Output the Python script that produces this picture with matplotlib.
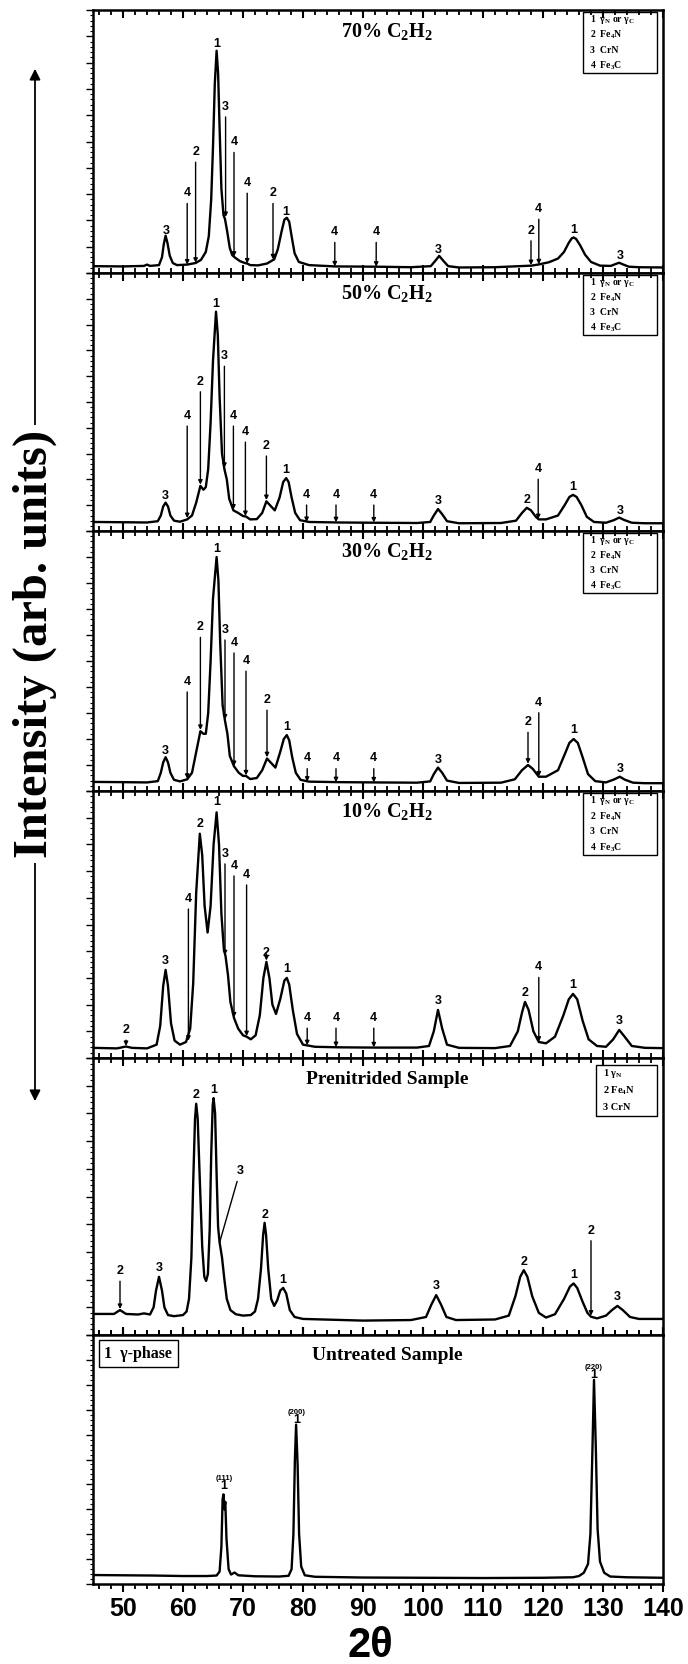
import matplotlib
matplotlib.use("Agg")
import matplotlib.pyplot as plt
from matplotlib.ticker import MultipleLocator
from matplotlib.patches import Rectangle, FancyArrowPatch
from matplotlib import font_manager

names = {f.name for f in font_manager.fontManager.ttflist}
TICKFONT = 'Liberation Sans Narrow' if 'Liberation Sans Narrow' in names else 'Liberation Sans'
SERIF = 'Liberation Serif'
SANS = 'Liberation Sans'
plt.rcParams['mathtext.default'] = 'regular'

# ---- data: (2theta, intensity in % of panel height) ----
curve_70 = [(45, 2.6), (50, 2.5), (53.5, 2.7), (54, 3.2), (54.5, 2.7), (56, 3.0), (56.5, 6), (56.8, 11),
            (57.1, 14.2), (57.4, 11.5), (57.8, 6.5), (58.3, 3.8), (59, 3.0), (60.7, 3.2), (62.1, 3.8),
            (63, 5), (63.8, 8), (64.3, 14), (64.7, 28), (65.0, 48), (65.3, 72), (65.6, 84.5), (65.85, 76),
            (66.1, 55), (66.4, 32), (66.75, 22), (67.0, 20.5), (67.35, 16), (67.8, 9.5), (68.2, 6.8),
            (68.7, 5.8), (69.5, 4.5), (70.3, 3.8), (70.7, 3.6), (71.2, 3.0), (72.5, 2.9), (74, 3.6),
            (75.2, 5.2), (75.8, 9), (76.4, 15.5), (76.9, 20.3), (77.3, 21), (77.7, 19.5), (78.1, 14),
            (78.6, 7.5), (79.3, 4.2), (81, 3.0), (85.3, 2.5), (92.2, 2.4), (98, 2.2), (101.3, 2.6),
            (102.0, 4.5), (102.7, 6.5), (103.4, 4.6), (104.2, 2.6), (106, 2.1), (112, 2.2), (118.1, 2.8),
            (119.4, 3.3), (121, 4.1), (122.5, 5.5), (123.5, 8), (124.3, 11.5), (124.8, 13.2), (125.1, 13.5),
            (125.5, 13.0), (126.2, 10.5), (127, 7), (128, 4.2), (129.5, 2.8), (131.3, 2.7), (132.2, 3.5),
            (132.7, 3.9), (133.3, 3.3), (134.3, 2.4), (136, 2.2), (140, 2.1)]

curve_50 = [(45, 3.5), (50, 3.4), (54, 3.3), (55.8, 3.8), (56.3, 6), (56.7, 9.5), (57.1, 11), (57.5, 9.5),
            (57.9, 6), (58.5, 4), (59.5, 3.6), (60.7, 4.5), (61.5, 6), (62.2, 11), (62.9, 17.5), (63.4, 16),
            (63.8, 17), (64.2, 24), (64.6, 42), (65.0, 66), (65.5, 85), (65.8, 76), (66.1, 52), (66.5, 30),
            (66.9, 24), (67.3, 20), (67.7, 12.5), (68.4, 8), (69.2, 7), (70.0, 5.8), (70.5, 5.6), (71.2, 4.5),
            (72.3, 4.6), (73.2, 7), (73.9, 11.5), (74.5, 10), (75.3, 8), (76.1, 13), (76.7, 19), (77.2, 20.5),
            (77.6, 19), (78.1, 13), (78.7, 7), (79.5, 4.2), (81, 3.5), (86, 3.3), (92, 3.2), (99, 3.1),
            (101.2, 3.5), (101.8, 6), (102.5, 8.5), (103.2, 6.5), (104.0, 3.8), (106, 3.0), (113, 3.1),
            (115.5, 4), (116.5, 7), (117.3, 9), (118, 8), (118.8, 5.5), (119.3, 4.5), (120.5, 4.5),
            (122.5, 6), (123.6, 10), (124.4, 13.2), (125, 14), (125.6, 13.2), (126.4, 10), (127.3, 5.5),
            (128.5, 3.5), (130.5, 3.2), (131.8, 4.2), (132.7, 5.2), (133.5, 4.3), (134.8, 3.2), (137, 3),
            (140, 3)]

curve_30 = [(45, 3.5), (50, 3.4), (54, 3.3), (55.8, 3.8), (56.3, 7), (56.7, 11), (57.1, 13), (57.5, 11),
            (57.9, 7), (58.5, 4.3), (59.5, 3.7), (60.7, 4.5), (61.5, 7), (62.2, 15), (62.9, 23), (63.4, 22),
            (63.8, 22), (64.2, 30), (64.6, 50), (65.0, 74), (65.6, 90), (65.9, 81), (66.2, 57), (66.6, 33),
            (67.0, 27), (67.4, 22), (67.8, 13.5), (68.5, 9.5), (69.3, 7), (70.0, 5.8), (70.5, 5.8), (71.2, 4.6),
            (72.3, 5), (73.2, 8), (74.0, 12.5), (74.6, 11), (75.4, 9), (76.2, 15), (76.8, 20), (77.3, 21.5),
            (77.7, 19.5), (78.2, 13), (78.8, 7), (79.6, 4.3), (81, 3.6), (86, 3.4), (92, 3.3), (99, 3.2),
            (101.2, 3.7), (101.8, 6.5), (102.5, 9), (103.2, 7), (104.0, 4), (106, 3.1), (113, 3.2),
            (115.3, 4.5), (116.5, 8), (117.5, 10), (118.3, 8.5), (119.3, 5.5), (120.5, 5.5), (122.5, 8),
            (123.6, 14), (124.4, 18.5), (125.1, 20), (125.8, 18.5), (126.6, 13), (127.5, 6.5), (128.7, 3.8),
            (130.5, 3.3), (131.8, 4.4), (132.8, 5.5), (133.6, 4.4), (135, 3.2), (137, 3), (140, 3)]

curve_10 = [(45, 3.8), (49, 3.6), (50.5, 4.3), (51.5, 3.8), (54, 3.6), (55.6, 5), (56.2, 12), (56.7, 27),
            (57.1, 33), (57.5, 27), (58, 13), (58.6, 6.5), (59.5, 5), (60.5, 6), (61.2, 11), (61.7, 28),
            (62.2, 62), (62.8, 84), (63.2, 76), (63.6, 57), (64.1, 47), (64.6, 57), (65.1, 80), (65.6, 92),
            (66.0, 80), (66.4, 54), (66.8, 41), (67.1, 38), (67.5, 31), (67.9, 21), (68.5, 15), (69.2, 11),
            (70, 8.5), (70.6, 8), (71.3, 7), (72.1, 8.5), (72.8, 16), (73.4, 30), (73.9, 36), (74.4, 30),
            (74.9, 20), (75.5, 16.5), (76.2, 22), (76.9, 29), (77.3, 30), (77.7, 27.5), (78.3, 18), (79, 9),
            (80, 5), (82, 4.2), (86, 4), (92, 3.9), (99, 3.9), (101, 4.5), (101.8, 10), (102.5, 18),
            (103.2, 11), (104, 5), (106, 3.8), (112, 3.7), (114.5, 4.5), (115.8, 10), (116.5, 17), (117, 21),
            (117.6, 18), (118.4, 10), (119.3, 6), (120.5, 5.5), (122, 8), (123.4, 16), (124.3, 22), (125, 24),
            (125.7, 22), (126.6, 14), (127.6, 7), (129, 4.5), (130.5, 4.2), (131.7, 7), (132.7, 10.5),
            (133.6, 8), (134.8, 4.5), (137, 3.8), (140, 3.7)]

curve_pre = [(45, 7.6), (48.5, 7.6), (49.5, 9), (50.5, 7.6), (52.5, 7.4), (53.5, 7.8), (54.5, 7.4), (55.1, 10),
             (55.5, 16), (56.0, 21), (56.5, 16), (56.9, 10), (57.5, 7.2), (58.5, 6.8), (60, 7.2), (60.6, 8.5),
             (61.0, 13), (61.4, 28), (61.7, 55), (62.0, 78), (62.2, 83.5), (62.45, 78), (62.8, 56), (63.2, 32),
             (63.55, 21), (63.85, 19.5), (64.15, 22), (64.45, 38), (64.7, 65), (64.95, 83), (65.1, 85.5),
             (65.35, 80), (65.6, 58), (65.85, 39), (66.1, 33.4), (66.5, 28), (66.9, 20), (67.3, 13), (67.9, 9),
             (68.8, 7.5), (70, 7), (71.3, 7.2), (72.0, 8.5), (72.5, 13), (73.0, 24), (73.35, 36), (73.6, 40.5),
             (73.85, 36), (74.2, 24), (74.7, 13), (75.2, 10.5), (75.7, 12.5), (76.2, 16), (76.7, 17),
             (77.2, 15), (77.8, 9), (78.6, 6.5), (80, 5.8), (90, 5.2), (98, 5.4), (100.5, 6.5), (101.4, 11),
             (102.2, 14.4), (103.0, 11), (103.9, 6.5), (105.5, 5.4), (112, 5.6), (114.3, 7), (115.4, 14),
             (116.2, 21), (116.8, 23.4), (117.4, 21), (118.2, 14), (119.3, 8), (120.5, 6.3), (122, 7.5),
             (123.5, 13), (124.5, 17.5), (125.1, 18.6), (125.7, 17), (126.6, 12), (127.4, 8), (128, 6.6),
             (129, 6), (130.5, 7), (131.5, 9), (132.4, 10.5), (133.3, 9), (134.5, 6.5), (136, 5.8), (140, 5.8)]

curve_untreated = [(45, 3.6), (50, 3.5), (55, 3.4), (60, 3.2), (64, 3.2), (65.6, 3.4), (66.1, 5), (66.4, 15),
                   (66.6, 34), (66.75, 36), (66.9, 30), (67.05, 33), (67.25, 18), (67.6, 6), (68.0, 3.8),
                   (68.6, 4.6), (69.2, 3.5), (72, 3.1), (76, 3.0), (77.6, 3.3), (78.1, 6), (78.4, 20),
                   (78.65, 50), (78.85, 64), (79.1, 48), (79.35, 20), (79.7, 7), (80.3, 3.5), (82, 2.9),
                   (90, 2.6), (100, 2.5), (110, 2.4), (120, 2.5), (125, 2.7), (126.0, 3.2), (126.8, 4.5),
                   (127.5, 8), (127.9, 20), (128.2, 50), (128.5, 82), (128.8, 55), (129.1, 22), (129.5, 9),
                   (130.2, 4.5), (131.2, 3.0), (134, 2.7), (140, 2.5)]

# peak labels: (text, 2theta, label height, arrow tip height or None)
labels_70 = [("3", 57.2, 16.1, None), ("4", 60.7, 30.3, 3.2), ("2", 62.1, 46, 3.9), ("1", 65.6, 87, None),
             ("3", 67.1, 63.2, 21.3), ("4", 68.5, 49.7, 6.2), ("4", 70.7, 34.2, 3.6), ("2", 75.0, 30.3, 5.2),
             ("1", 77.2, 23.2, None), ("4", 85.3, 15.5, 2.5), ("4", 92.2, 15.5, 2.4), ("3", 102.6, 8.8, None),
             ("2", 118.0, 16.1, 3.0), ("4", 119.3, 24.3, 3.3), ("1", 125.1, 16.2, None), ("3", 132.8, 6.4, None)]
labels_50 = [("3", 57.1, 13.5, None), ("4", 60.7, 44.6, 5), ("2", 62.9, 57.9, 18), ("1", 65.5, 88, None),
             ("3", 66.9, 67.8, 24.5), ("4", 68.4, 44.6, 8.3), ("4", 70.4, 38.4, 5.8), ("2", 73.9, 33, 12),
             ("1", 77.2, 23.5, None), ("4", 80.6, 14, 3.5), ("4", 85.5, 14, 3.4), ("4", 91.8, 14, 3.3),
             ("3", 102.5, 11.5, None), ("2", 117.3, 12, None), ("4", 119.2, 24, 4.6), ("1", 125.0, 17, None),
             ("3", 132.8, 7.7, None)]
labels_30 = [("3", 57.1, 15.5, None), ("4", 60.7, 42, 4.7), ("2", 62.9, 63, 23.5), ("1", 65.6, 93, None),
             ("3", 67.0, 62, 27.5), ("4", 68.5, 57, 9.6), ("4", 70.5, 50, 6), ("2", 74.0, 35, 13),
             ("1", 77.3, 24.5, None), ("4", 80.7, 12.5, 3.6), ("4", 85.5, 12.5, 3.4), ("4", 91.8, 12.5, 3.3),
             ("3", 102.5, 12, None), ("2", 117.5, 26.5, 10.5), ("4", 119.3, 34, 5.6), ("1", 125.1, 23.5, None),
             ("3", 132.8, 8.3, None)]
labels_10 = [("2", 50.5, 10.5, 4.5), ("3", 57.1, 36.5, None), ("4", 60.9, 59.6, 6.5), ("2", 62.8, 87.5, None),
             ("1", 65.6, 96, None), ("3", 67.0, 76.5, 38.5), ("4", 68.5, 72, 15.2), ("4", 70.6, 68.6, 8.2),
             ("2", 73.9, 39.5, 36.5), ("1", 77.3, 33.5, None), ("4", 80.7, 15, 4.8), ("4", 85.5, 15, 4.1),
             ("4", 91.8, 15, 4.0), ("3", 102.5, 21.5, None), ("2", 117.0, 24.5, None), ("4", 119.3, 34, 6.1),
             ("1", 125.0, 27.5, None), ("3", 132.7, 14, None)]
labels_pre = [("2", 49.5, 23.1, 9.4), ("3", 56.0, 24.3, None), ("2", 62.2, 86.5, None), ("1", 65.1, 88.5, None),
              ("2", 73.6, 43.5, None), ("1", 76.7, 20, None), ("3", 102.2, 17.6, None), ("2", 116.8, 26.3, None),
              ("1", 125.1, 21.6, None), ("2", 128.0, 37.7, 7.0), ("3", 132.4, 13.6, None)]
labels_untreated = [("(111)", 66.8, 42.5), ("(200)", 78.9, 69), ("(220)", 128.5, 87)]
ones_untreated = [("1", 66.8, 39.5), ("1", 78.9, 66), ("1", 128.5, 84)]

titles = ["70% C$_2$H$_2$", "50% C$_2$H$_2$", "30% C$_2$H$_2$", "10% C$_2$H$_2$",
          "Prenitrided Sample", "Untreated Sample"]
key_4 = ["1  $γ_N$ or $γ_C$", "2  Fe$_4$N", "3  CrN", "4  Fe$_3$C"]
key_3 = ["1 $γ_N$", "2 Fe$_4$N", "3 CrN"]

curves = [curve_70, curve_50, curve_30, curve_10, curve_pre, curve_untreated]
peak_labels = [labels_70, labels_50, labels_30, labels_10, labels_pre, None]

# panel edges in pixels from the top of the figure
edges = [10, 273, 531, 791, 1058, 1335, 1584]
W, H = 688, 1664

fig = plt.figure(figsize=(W / 100, H / 100), dpi=100)


def draw_labels(ax, labels):
    for txt, x, ylab, ytip in labels:
        kw = dict(ha='center', va='center', fontsize=9, fontweight='bold', family=SANS, zorder=5)
        if ytip is None:
            ax.text(x, ylab, txt, **kw)
        else:
            ax.annotate(txt, xy=(x, ytip), xytext=(x, ylab),
                        arrowprops=dict(arrowstyle='-|>', color='k', lw=1.0, mutation_scale=6,
                                        shrinkA=1, shrinkB=0), **kw)


def draw_key(ax, lines, x0, y0, x1, y1, size):
    ax.add_patch(Rectangle((x0, y0), x1 - x0, y1 - y0, transform=ax.transAxes,
                           fill=False, lw=1.0, ec='k', zorder=6))
    step = (y1 - y0) / len(lines)
    for i, s in enumerate(lines):
        ax.text(x0 + 0.012, y1 - (i + 0.5) * step, s, transform=ax.transAxes, ha='left', va='center',
                fontsize=size, fontweight='bold', family=SERIF, zorder=6)


for i in range(6):
    top, bot = edges[i], edges[i + 1]
    ax = fig.add_axes([93 / W, 1 - bot / H, 570 / W, (bot - top) / H])
    xs = [p[0] for p in curves[i]]
    ys = [p[1] for p in curves[i]]
    ax.plot(xs, ys, color='k', lw=1.7, solid_joinstyle='round')
    ax.set_xlim(45, 140)
    ax.set_ylim(0, 100)
    ax.xaxis.set_major_locator(MultipleLocator(10))
    ax.xaxis.set_minor_locator(MultipleLocator(2))
    ax.yaxis.set_major_locator(MultipleLocator(10))
    ax.yaxis.set_minor_locator(MultipleLocator(2))
    last = i == 5
    ax.tick_params(axis='x', which='both', direction='out' if last else 'in', top=True, bottom=True,
                   labelbottom=last)
    ax.tick_params(axis='x', which='major', length=6, width=1.5)
    ax.tick_params(axis='x', which='minor', length=3.5, width=1.3)
    ax.tick_params(axis='y', which='both', direction='out', left=True, labelleft=False)
    ax.tick_params(axis='y', which='major', length=5, width=1.0)
    ax.tick_params(axis='y', which='minor', length=2.5, width=0.8)
    for sp in ax.spines.values():
        sp.set_linewidth(1.8)
    title_y = 1 - 21 / (bot - top)
    ax.text((94 - 45) / 95, title_y, titles[i], transform=ax.transAxes, ha='center', va='center',
            fontsize=14.5 if i < 4 else 14, fontweight='bold', family=SERIF)
    if peak_labels[i] is not None:
        draw_labels(ax, peak_labels[i])
    if i < 4:
        draw_key(ax, key_4, 0.86, 0.76, 0.989, 0.992, 7)
    if i == 4:
        ax.annotate("3", xy=(66.1, 33.4), xytext=(69.5, 59.1), ha='center', va='center', fontsize=9,
                    fontweight='bold', family=SANS,
                    arrowprops=dict(arrowstyle='-', color='k', lw=1.0, shrinkA=1, shrinkB=0))
        draw_key(ax, key_3, 0.883, 0.79, 0.989, 0.975, 7.5)
    if last:
        for txt, x, y in labels_untreated:
            ax.text(x, y, txt, ha='center', va='center', fontsize=5.5, fontweight='bold', family=SANS)
        for txt, x, y in ones_untreated:
            ax.text(x, y, txt, ha='center', va='center', fontsize=9, fontweight='bold', family=SANS)
        ax.text(0.02, 0.925, "1  γ-phase", transform=ax.transAxes, ha='left', va='center', fontsize=11.5,
                fontweight='bold', family=SERIF,
                bbox=dict(boxstyle='square,pad=0.35', fc='white', ec='k', lw=1.0))
        for lab in ax.get_xticklabels():
            lab.set_fontsize(18)
            lab.set_fontweight('bold')
            lab.set_family(TICKFONT)

fig.text(370 / W, 1 - 1646 / H, "2θ", ha='center', va='center', fontsize=30, fontweight='bold', family=SANS)

arrow = FancyArrowPatch((35 / W, 1 - 1104 / H), (35 / W, 1 - 66 / H), transform=fig.transFigure,
                        arrowstyle='<|-|>', mutation_scale=16, lw=1.3, color='k')
fig.add_artist(arrow)
fig.text(35 / W, 1 - 644 / H, "Intensity (arb. units)", rotation=90, ha='center', va='center',
         fontsize=35, fontweight='bold', family=SERIF, zorder=10,
         bbox=dict(boxstyle='square,pad=0.1', fc='white', ec='none'))

fig.savefig("out.png", dpi=100)
